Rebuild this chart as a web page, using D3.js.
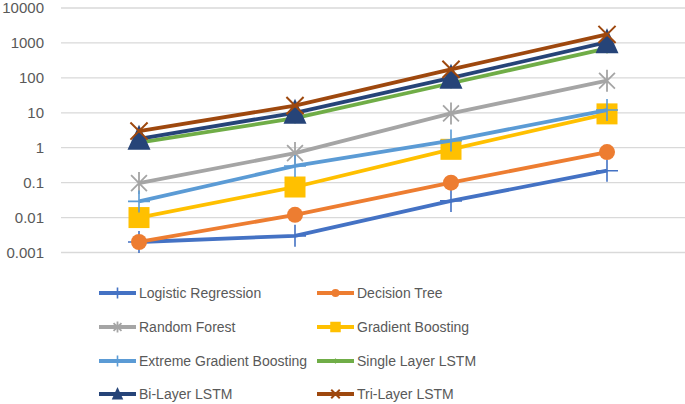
<!DOCTYPE html>
<html><head><meta charset="utf-8">
<script src="https://cdnjs.cloudflare.com/ajax/libs/d3/7.8.5/d3.min.js"></script>
<style>body{margin:0;background:#fff;}svg{display:block;}</style>
</head><body>
<svg id="chart" width="685" height="404"></svg>
<script>
const categories = ["1", "2", "3", "4"];
const yTicks = [0.001, 0.01, 0.1, 1, 10, 100, 1000, 10000];
const yTickLabels = ["0.001", "0.01", "0.1", "1", "10", "100", "1000", "10000"];
const seriesNames = ["Logistic Regression", "Decision Tree", "Random Forest", "Gradient Boosting",
  "Extreme Gradient Boosting", "Single Layer LSTM", "Bi-Layer LSTM", "Tri-Layer LSTM"];
const logisticRegression = [0.002, 0.003, 0.03, 0.22];
const decisionTree = [0.002, 0.012, 0.1, 0.75];
const randomForest = [0.097, 0.7, 9.6, 83];
const gradientBoosting = [0.01, 0.075, 0.9, 9.3];
const extremeGradientBoosting = [0.029, 0.3, 1.6, 12];
const singleLayerLSTM = [1.4, 7, 70, 700];
const biLayerLSTM = [1.8, 10, 100, 1050];
const triLayerLSTM = [3, 16, 175, 1750];

const seriesValues = [logisticRegression, decisionTree, randomForest, gradientBoosting,
  extremeGradientBoosting, singleLayerLSTM, biLayerLSTM, triLayerLSTM];
const colors = ["#4472C4", "#ED7D31", "#A5A5A5", "#FFC000", "#5B9BD5", "#70AD47", "#264478", "#9E480E"];
const markerTypes = ["plus", "circle", "asterisk", "square", "plus", "diamond", "triangle", "cross"];

const svg = d3.select("#chart");
const x = d3.scalePoint().domain(categories).range([61, 685]).padding(0.5);
const y = d3.scaleLog().domain([0.001, 10000]).range([252.5, 8]);

// gridlines
svg.append("g").selectAll("line").data(yTicks).join("line")
  .attr("x1", 61).attr("x2", 685)
  .attr("y1", d => y(d)).attr("y2", d => y(d))
  .attr("stroke", "#D9D9D9").attr("stroke-width", 1.3);

// axis labels
const yAxis = d3.axisLeft(y).tickValues(yTicks).tickFormat((d, i) => yTickLabels[i]).tickSize(0).tickPadding(0);
const ga = svg.append("g").attr("transform", "translate(44,0)").call(yAxis);
ga.select(".domain").remove();
ga.selectAll("text").attr("font-family", "'Liberation Sans', Arial, sans-serif")
  .attr("font-size", 15).attr("fill", "#595959");

function drawMarker(g, type, color, s) {
  const h = 11 * s;
  if (type === "plus") {
    g.append("path").attr("d", `M${-h},0H${h}M0,${-h}V${h}`)
      .attr("stroke", color).attr("stroke-width", 1.6).attr("fill", "none");
  } else if (type === "circle") {
    g.append("circle").attr("r", 8 * s).attr("fill", color);
  } else if (type === "asterisk") {
    const d = h * 0.72;
    g.append("path").attr("d", `M0,${-h}V${h}M${-d},${-d}L${d},${d}M${-d},${d}L${d},${-d}`)
      .attr("stroke", color).attr("stroke-width", 1.8).attr("fill", "none");
  } else if (type === "square") {
    const a = 10.5 * s;
    g.append("rect").attr("x", -a).attr("y", -a).attr("width", 2 * a).attr("height", 2 * a).attr("fill", color);
  } else if (type === "diamond") {
    const a = 5.5 * s;
    g.append("path").attr("d", `M0,${-a}L${a},0L0,${a}L${-a},0Z`).attr("fill", color);
  } else if (type === "triangle") {
    const w = 11.5 * s, t = 14 * s, b = 11 * s;
    g.append("path").attr("d", `M0,${-t}L${w},${b}L${-w},${b}Z`).attr("fill", color);
  } else if (type === "cross") {
    const d = h * 0.78;
    g.append("path").attr("d", `M${-d},${-d}L${d},${d}M${-d},${d}L${d},${-d}`)
      .attr("stroke", color).attr("stroke-width", 2).attr("fill", "none");
  }
}

const line = d3.line().x((d, i) => x(categories[i])).y(d => y(d));
seriesValues.forEach((vals, si) => {
  const g = svg.append("g");
  g.append("path").datum(vals).attr("d", line)
    .attr("fill", "none").attr("stroke", colors[si]).attr("stroke-width", 3.8)
    .attr("stroke-linejoin", "round");
  vals.forEach((v, i) => {
    const mg = g.append("g").attr("transform", `translate(${x(categories[i])},${y(v)})`);
    drawMarker(mg, markerTypes[si], colors[si], 1);
  });
});

// legend
const legCols = [99, 317];
const legRows = [293, 327, 361, 394];
seriesNames.forEach((name, i) => {
  const lx = legCols[i % 2], ly = legRows[Math.floor(i / 2)];
  const g = svg.append("g").attr("transform", `translate(${lx},${ly})`);
  g.append("line").attr("x1", 0).attr("x2", 37).attr("y1", 0).attr("y2", 0)
    .attr("stroke", colors[i]).attr("stroke-width", 4);
  const mg = g.append("g").attr("transform", "translate(18.5,0)");
  drawMarker(mg, markerTypes[i], colors[i], 0.5);
  g.append("text").attr("x", 40).attr("y", 0).attr("dy", "0.35em")
    .attr("font-family", "'Liberation Sans', Arial, sans-serif").attr("font-size", 14)
    .attr("fill", "#595959").text(name);
});
</script>
</body></html>
